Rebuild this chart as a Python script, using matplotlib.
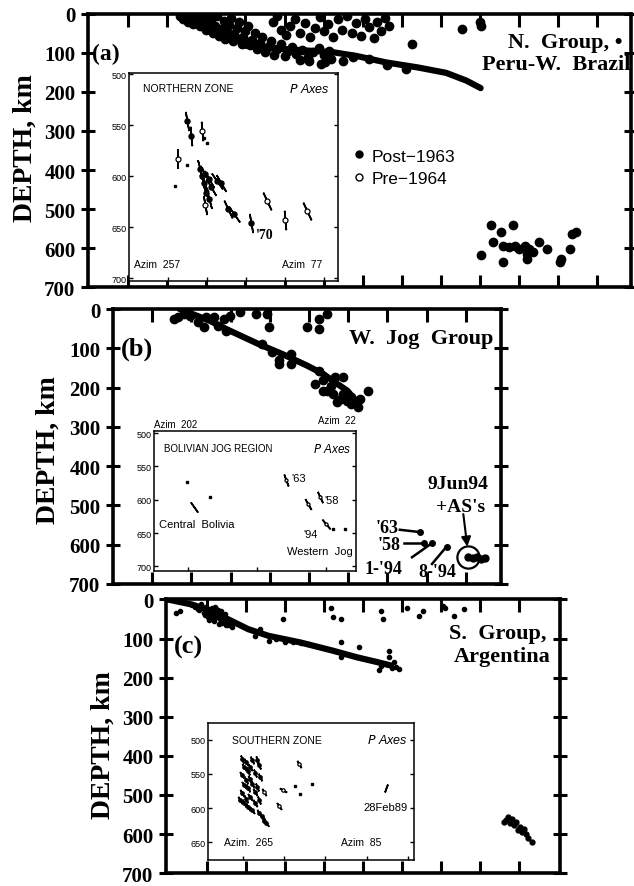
import numpy as np
import matplotlib.pyplot as plt
from matplotlib.lines import Line2D

SERIF = ['Liberation Serif', 'DejaVu Serif']
SANS = ['Liberation Sans', 'DejaVu Sans']
plt.rcParams['font.family'] = SERIF

# ---------------- panel (a): N. Group, Peru-W. Brazil  (distance km, depth km)
a_x = [232, 240, 248, 252, 262, 266, 274, 280, 284, 290, 296, 300, 306, 312, 318, 322, 328,
       332, 338, 344, 348, 352, 358, 364, 368, 372, 378, 384, 390, 394, 400, 406, 412, 418,
       424, 430, 436, 442, 450, 458, 466, 474, 482, 490, 500, 510, 520, 530, 545, 560, 572,
       588, 600, 614, 470, 480, 490, 505, 515, 528, 540, 552, 566, 578, 590, 600, 612, 624,
       636, 648, 660, 672, 684, 696, 706, 716, 728, 738, 748, 758, 768, 826, 955, 1000, 1004,
       562, 593, 603, 650, 676, 717, 763, 810, 540, 620,
       255, 270, 288, 308, 326, 342, 360, 376, 392, 410, 428, 446]
a_d = [5, 12, 4, 20, 9, 26, 14, 4, 32, 18, 8, 40, 24, 12, 48, 30, 6,
       56, 38, 18, 64, 46, 28, 10, 70, 52, 36, 20, 76, 60, 44, 30, 80, 66,
       50, 90, 74, 60, 98, 84, 70, 104, 90, 78, 108, 94, 84, 102, 92, 110, 98,
       88, 106, 96, 20, 6, 40, 55, 30, 12, 48, 22, 60, 36, 8, 44, 26, 58,
       14, 40, 6, 48, 24, 56, 12, 34, 62, 20, 44, 10, 32, 77, 38, 20, 30,
       120, 128, 124, 120, 111, 115, 132, 141, 118, 115,
       14, 22, 28, 34, 42, 50, 56, 62, 68, 72, 82, 88]
a_slab_x = [396, 500, 624, 686, 759, 841, 914, 966, 1002]
a_slab_d = [81, 90, 98, 108, 124, 137, 151, 171, 190]
a_deep_x = [1002, 1028, 1033, 1054, 1059, 1059, 1085, 1075, 1090, 1100, 1116, 1121, 1126,
            1137, 1121, 1152, 1173, 1204, 1209, 1230, 1235, 1245]
a_deep_d = [619, 542, 585, 560, 594, 636, 542, 598, 594, 602, 594, 615, 602,
            611, 628, 585, 602, 636, 628, 602, 564, 560]

# inset (a): Northern zone P axes
ia_u = [1.48, 1.58, 1.87, 1.26, 1.83, 1.88, 1.92, 1.95, 2.05, 2.10, 2.25, 2.35, 1.98, 1.95,
        2.05, 2.55, 2.68, 3.12, 3.54, 3.99, 4.56, 1.18, 1.48, 1.99, 1.93]
ia_d = [546, 561, 556, 583, 593, 600, 607, 598, 603, 611, 605, 607, 617, 628,
        623, 632, 637, 646, 624, 643, 634, 610, 589, 568, 563]
ia_tilt = [10, 5, 5, 0, 15, 20, 25, 30, 30, 30, 35, 30, 20, 10,
           15, 25, 35, 10, 25, 5, 25, 0, 0, 0, 0]
ia_kind = ['filled', 'filled', 'open', 'open', 'filled', 'filled', 'filled', 'filled',
           'filled', 'filled', 'filled', 'filled', 'filled', 'open', 'filled', 'filled',
           'filled', 'filled', 'open', 'open', 'open', 'dot', 'dot', 'dot', 'dot']

# ---------------- panel (b): W. Jog Group
b_x = [155, 165, 180, 196, 216, 232, 237, 258, 268, 284, 289, 299, 325, 366, 392, 397, 381,
       407, 423, 423, 454, 454, 495, 526, 526, 546, 526, 536, 546, 557, 567, 588, 588, 572,
       598, 608, 624, 629, 650, 515, 536, 562, 582, 608]
b_d = [25, 21, 13, 17, 34, 47, 21, 21, 42, 25, 55, 17, 8, 13, 13, 47, 89,
       110, 131, 140, 140, 115, 47, 51, 25, 13, 157, 182, 208, 195, 174, 174, 216, 237,
       233, 242, 250, 229, 208, 191, 208, 216, 229, 225]
b_slab_x = [170, 247, 289, 371, 433, 495, 536, 567, 598, 619]
b_slab_d = [0, 30, 51, 89, 115, 144, 165, 187, 208, 233]
b_deep_x = [905, 918, 930, 940, 948]
b_deep_d = [632, 634, 632, 636, 633]
# labelled deep events: name, event (x, d), label anchor (x, d), leader start (x, d)
b_ev_name = ["'63", "'58", "1-'94", "8-'94"]
b_ev_x = [784, 794, 814, 851]
b_ev_d = [568, 596, 596, 605]
b_lab_x = [700, 705, 690, 828]
b_lab_d = [556, 600, 660, 668]
b_lead_x = [732, 742, 763, 814]
b_lead_d = [562, 596, 632, 649]

# inset (b): Bolivian Jog region
ib_u = [0.96, 1.62, 1.15, 3.85, 4.47, 4.82, 5.00, 5.20, 5.55]
ib_d = [574, 596, 611, 570, 607, 596, 637, 644, 644]
ib_tilt = [0, 0, 35, 20, 30, 25, 40, 0, 0]
ib_kind = ['dot', 'dot', 'bar', 'open', 'open', 'open', 'open', 'dot', 'dot']

# ---------------- panel (c): S. Group, Argentina
c_x = [21, 31, 62, 78, 93, 98, 103, 108, 113, 118, 124, 129, 134, 139, 144, 150, 155, 160,
       165, 85, 120, 145, 237, 222, 258, 278, 299, 320, 340, 360, 294, 418, 423, 443, 443,
       490, 443, 546, 552, 567, 567, 541, 593, 546, 613, 644, 654, 711, 732, 758, 706,
       560, 575, 580, 585,
       70, 80, 88, 96, 104, 110, 116, 122, 128, 132, 138, 142, 100, 106, 112, 126, 136, 148]
c_d = [34, 30, 15, 25, 35, 20, 45, 30, 40, 55, 25, 35, 50, 60, 45, 55, 65, 60,
       70, 12, 18, 38, 76, 93, 105, 100, 110, 108, 112, 115, 51, 21, 46, 51, 110,
       122, 148, 30, 51, 131, 148, 181, 177, 169, 21, 42, 30, 21, 42, 25, 17,
       165, 175, 160, 172,
       20, 28, 18, 40, 24, 36, 48, 42, 28, 62, 38, 52, 32, 52, 22, 46, 30, 66]
c_slab_x = [0, 62, 113, 155, 206, 258, 340, 423, 485, 536, 572]
c_slab_d = [0, 13, 30, 51, 76, 93, 110, 131, 148, 160, 169]
c_deep_x = [866, 871, 876, 881, 887, 892, 897, 907, 912, 918, 923, 933, 902, 861]
c_deep_d = [565, 557, 573, 561, 578, 570, 590, 594, 586, 599, 611, 620, 582, 569]

# inset (c): Southern zone
ic_u = [0.83, 0.93, 1.08, 1.18, 0.88, 0.98, 0.83, 0.93, 1.03, 1.13, 0.88, 0.98, 1.08, 1.18,
        0.83, 0.93, 1.03, 1.13, 1.23, 0.98, 1.08, 1.23, 1.32, 1.37, 1.42, 0.88, 0.78, 1.13,
        1.27, 1.03, 1.23, 2.20, 1.37, 1.81, 1.72, 2.11, 2.23, 2.52, 4.31]
ic_d = [528, 532, 530, 529, 540, 545, 552, 559, 557, 549, 566, 571, 564, 569,
        578, 586, 583, 593, 588, 598, 603, 607, 612, 619, 622, 593, 588, 576,
        554, 540, 537, 535, 576, 573, 597, 567, 579, 564, 570]
ic_tilt = [20, 30, 25, 15, 30, 20, 35, 25, 30, 20, 35, 25, 30, 20,
           30, 25, 35, 30, 20, 30, 35, 30, 40, 35, 40, 25, 30, 30,
           25, 30, 20, 30, 30, 60, 35, 0, 0, 0, -20]
ic_kind = ['filled'] * 31 + ['open', 'open', 'open', 'open', 'dot', 'dot', 'dot', 'bar']


def frame(ax, xlim, xt):
    ax.set_xlim(*xlim)
    ax.set_ylim(700, 0)
    ax.set_xticks(xt)
    ax.set_yticks(range(0, 701, 100))
    ax.tick_params(axis='x', which='both', direction='in', length=9, width=2.2,
                   top=True, labelbottom=False)
    ax.tick_params(axis='y', direction='inout', length=10, width=2.2, right=True, pad=4,
                   labelsize=15)
    for lab in ax.get_yticklabels():
        lab.set_fontweight('bold')
    for s in ax.spines.values():
        s.set_linewidth(2.6)


def inset(rect, ylim, yt, xlim, xt):
    ax = fig.add_axes(rect)
    ax.set_xlim(*xlim)
    ax.set_ylim(*ylim)
    ax.set_yticks(yt)
    ax.set_xticks(xt)
    ax.tick_params(direction='in', length=3, width=1, right=True, labelbottom=False,
                   labelsize=6.5, pad=2)
    for lab in ax.get_yticklabels():
        lab.set_family(SANS)
    for s in ax.spines.values():
        s.set_linewidth(1.1)
    return ax


def p_axes(ax, u, d, tilt, kind, ln, cs):
    for ui, di, ti, ki in zip(u, d, tilt, kind):
        if ki != 'dot':
            ax.plot(ui, di, marker=(2, 2, ti), ms=ln, mew=1.2, color='k')
        if ki == 'open':
            ax.plot(ui, di, 'o', ms=cs, mfc='white', mec='k', mew=0.9)
        elif ki == 'filled':
            ax.plot(ui, di, 'o', ms=cs, color='k')
        elif ki == 'dot':
            ax.plot(ui, di, 's', ms=1.6, color='k')


fig = plt.figure(figsize=(6.34, 8.87), dpi=100)

# ===== (a)
axA = fig.add_axes([0.1388, 0.6753, 0.8565, 0.3078])
axA.plot(a_slab_x, a_slab_d, '-', color='k', lw=4.5, solid_capstyle='round')
axA.plot(a_x, a_d, 'o', color='k', ms=6)
axA.plot(a_deep_x, a_deep_d, 'o', color='k', ms=6)
frame(axA, (-3, 1387), range(100, 1301, 100))
axA.text(0.985, 0.935, 'N.  Group, \u2022', transform=axA.transAxes, ha='right', va='top',
         fontsize=16, fontweight='bold')
axA.text(0.998, 0.855, 'Peru-W.  Brazil', transform=axA.transAxes, ha='right', va='top',
         fontsize=16, fontweight='bold')
axA.text(0.008, 0.895, '(a)', transform=axA.transAxes, ha='left', va='top',
         fontsize=17, fontweight='bold')
hand = [Line2D([], [], ls='', marker='o', ms=5, color='k'),
        Line2D([], [], ls='', marker='o', ms=5, mfc='white', mec='k')]
axA.legend(hand, ['Post\u22121963', 'Pre\u22121964'], loc='upper left',
           bbox_to_anchor=(0.455, 0.565), frameon=False, handletextpad=0.2,
           handlelength=1.0, labelspacing=0.45, prop={'family': SANS, 'size': 12.5})
fig.text(0.040, 0.833, 'DEPTH, km', rotation=90, ha='center', va='center',
         fontsize=20, fontweight='bold')

iA = inset([0.2035, 0.682, 0.3297, 0.2345], (703, 499), range(500, 701, 50),
           (0, 5.36), range(1, 6))
p_axes(iA, ia_u, ia_d, ia_tilt, ia_kind, 14, 3.6)
iA.text(0.35, 514, 'NORTHERN ZONE', family=SANS, fontsize=7.5, va='center')
iA.text(5.15, 514, r'$P$ Axes', family=SANS, fontsize=9, style='italic', ha='right',
        va='center')
iA.text(0.12, 686, 'Azim  257', family=SANS, fontsize=7.5, va='center')
iA.text(4.95, 686, 'Azim  77', family=SANS, fontsize=7.5, ha='right', va='center')
iA.text(3.25, 657, "'70", fontsize=10, fontweight='bold', va='center')

# ===== (b)
axB = fig.add_axes([0.1782, 0.3405, 0.612, 0.310])
axB.plot(b_slab_x, b_slab_d, '-', color='k', lw=4.5, solid_capstyle='round')
axB.plot(b_x, b_d, 'o', color='k', ms=6)
axB.plot(b_deep_x, b_deep_d, 'o', color='k', ms=5)
axB.plot(b_deep_x[0], b_deep_d[0], 'o', ms=16, mfc='none', mec='k', mew=1.6)
axB.plot(b_ev_x, b_ev_d, 'o', color='k', ms=4)
for nm, ex, ed, lx, ld, kx, kd in zip(b_ev_name, b_ev_x, b_ev_d, b_lab_x, b_lab_d,
                                      b_lead_x, b_lead_d):
    axB.plot([kx, ex], [kd, ed], '-', color='k', lw=1.8)
    axB.text(lx, ld, nm, fontsize=13, fontweight='bold', ha='center', va='center')
axB.annotate('', xy=(b_deep_x[0], b_deep_d[0] - 20), xytext=(893, 515),
             arrowprops=dict(arrowstyle='-|>', color='k', lw=1.5, mutation_scale=14))
axB.text(879, 445, '9Jun94', fontsize=14, fontweight='bold', ha='center', va='center')
axB.text(887, 503, "+AS's", fontsize=14, fontweight='bold', ha='center', va='center')
frame(axB, (0, 990), range(100, 901, 100))
axB.text(0.98, 0.93, 'W.  Jog  Group', transform=axB.transAxes, ha='right', va='top',
         fontsize=16, fontweight='bold')
axB.text(0.02, 0.90, '(b)', transform=axB.transAxes, ha='left', va='top',
         fontsize=19, fontweight='bold')
fig.text(0.0757, 0.493, 'DEPTH, km', rotation=90, ha='center', va='center',
         fontsize=20, fontweight='bold')

iB = inset([0.2429, 0.3551, 0.3186, 0.1578], (707, 497), range(500, 701, 50),
           (0, 5.88), [1, 3, 5])
p_axes(iB, ib_u, ib_d, ib_tilt, ib_kind, 9, 2.2)
iB.text(0.3, 523, 'BOLIVIAN JOG REGION', family=SANS, fontsize=7, va='center')
iB.text(5.75, 523, r'$P$ Axes', family=SANS, fontsize=8.5, style='italic', ha='right',
        va='center')
iB.text(0.15, 636, 'Central  Bolivia', family=SANS, fontsize=8, va='center')
iB.text(5.78, 677, 'Western  Jog', family=SANS, fontsize=8, ha='right', va='center')
iB.text(4.0, 567, "'63", family=SANS, fontsize=8, va='center')
iB.text(4.95, 600, "'58", family=SANS, fontsize=8, va='center')
iB.text(4.35, 651, "'94", family=SANS, fontsize=8, va='center')
iB.text(0.0, 486, 'Azim  202', family=SANS, fontsize=7, va='center', clip_on=False)
iB.text(5.88, 481, 'Azim  22', family=SANS, fontsize=7, ha='right', va='center',
        clip_on=False)

# ===== (c)
axC = fig.add_axes([0.2618, 0.0145, 0.6215, 0.3085])
axC.plot(c_slab_x, c_slab_d, '-', color='k', lw=4.5, solid_capstyle='round')
axC.plot(c_x, c_d, 'o', color='k', ms=3)
axC.plot(c_deep_x, c_deep_d, 'o', color='k', ms=3.5)
frame(axC, (-5, 1005), range(100, 901, 100))
axC.text(0.965, 0.915, 'S.  Group,', transform=axC.transAxes, ha='right', va='top',
         fontsize=16, fontweight='bold')
axC.text(0.975, 0.83, 'Argentina', transform=axC.transAxes, ha='right', va='top',
         fontsize=16, fontweight='bold')
axC.text(0.02, 0.87, '(c)', transform=axC.transAxes, ha='left', va='top',
         fontsize=19, fontweight='bold')
fig.text(0.162, 0.16, 'DEPTH, km', rotation=90, ha='center', va='center',
         fontsize=20, fontweight='bold')

iC = inset([0.328, 0.029, 0.325, 0.1545], (676, 476), range(500, 651, 50),
           (0, 5), np.arange(0.85, 5, 1))
p_axes(iC, ic_u, ic_d, ic_tilt, ic_kind, 6, 2.4)
iC.text(0.59, 500, 'SOUTHERN ZONE', family=SANS, fontsize=7.5, va='center')
iC.text(4.85, 500, r'$P$ Axes', family=SANS, fontsize=9, style='italic', ha='right',
        va='center')
iC.text(4.85, 598, '28Feb89', family=SANS, fontsize=8, ha='right', va='center')
iC.text(0.39, 650, 'Azim.  265', family=SANS, fontsize=7.5, va='center')
iC.text(3.24, 650, 'Azim  85', family=SANS, fontsize=7.5, va='center')

fig.savefig('out.png', dpi=100)
